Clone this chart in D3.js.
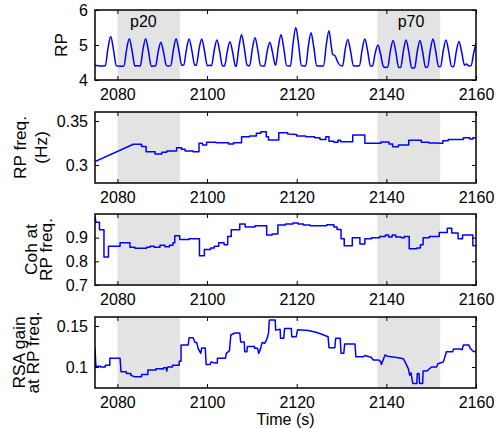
<!DOCTYPE html>
<html>
<head>
<meta charset="utf-8">
<script src="https://cdn.jsdelivr.net/npm/d3@7"></script>
<style>
  body { margin: 0; background: #fff; }
  text { font-family: "Liberation Sans", Arial, Helvetica, sans-serif; fill: #000; }
</style>
</head>
<body>
<script>
// ---- data ----
const xTicks = [2080, 2100, 2120, 2140, 2160];
const periods = [[2080, 2094], [2138, 2152]];
const periodNames = ["p20", "p70"];
const periodLabelTime = [2085.8, 2145.5];

// respiration signal, [time, value]
const rp = [
  [2075,4.42],[2076.2,4.4],[2077.3,4.41],[2077.9,4.91],[2078.5,5.24],[2079.1,4.89],[2079.75,4.41],[2080.6,4.39],
  [2081.45,4.4],[2082.05,4.87],[2082.65,5.18],[2083.25,4.85],[2083.9,4.4],[2084.5,4.41],
  [2085.1,4.4],[2085.7,4.87],[2086.3,5.18],[2086.9,4.85],[2087.55,4.39],[2088.0,4.4],
  [2088.5,4.4],[2089.1,4.81],[2089.7,5.08],[2090.3,4.79],[2090.95,4.41],[2091.4,4.4],
  [2091.9,4.41],[2092.5,4.87],[2093.1,5.18],[2093.7,4.85],[2094.35,4.42],
  [2094.8,4.43],[2095.4,4.87],[2096.0,5.17],[2096.6,4.85],[2097.25,4.43],
  [2097.6,4.42],[2098.2,4.87],[2098.8,5.17],[2099.4,4.85],[2100.05,4.41],[2100.6,4.42],
  [2101.0,4.41],[2101.6,4.85],[2102.2,5.14],[2102.8,4.83],[2103.45,4.4],
  [2103.9,4.4],[2104.5,4.81],[2105.1,5.09],[2105.7,4.8],[2106.35,4.39],
  [2106.5,4.4],[2107.1,4.93],[2107.7,5.29],[2108.3,4.92],[2108.95,4.42],[2109.3,4.41],
  [2109.5,4.41],[2110.1,4.89],[2110.7,5.21],[2111.3,4.87],[2111.95,4.41],[2112.4,4.4],
  [2112.8,4.4],[2113.4,4.81],[2114.0,5.08],[2114.6,4.79],[2115.25,4.42],
  [2115.3,4.42],[2115.9,4.94],[2116.5,5.29],[2117.1,4.92],[2117.75,4.41],[2118.2,4.4],
  [2118.6,4.4],[2119.2,5.06],[2119.8,5.5],[2120.4,5.04],[2121.05,4.41],[2121.6,4.4],
  [2122.0,4.4],[2122.6,4.97],[2123.2,5.35],[2123.8,4.95],[2124.45,4.41],[2125.3,4.4],
  [2126.0,4.41],[2126.6,5.01],[2127.2,5.41],[2127.7,4.98],[2128.0,4.74],[2128.6,4.68],[2129.2,4.5],[2129.8,4.41],
  [2130.25,4.4],[2130.8,4.86],[2131.4,5.16],[2132.0,4.84],[2132.65,4.41],[2133.4,4.4],
  [2134.0,4.41],[2134.6,4.87],[2135.2,5.17],[2135.8,4.85],[2136.45,4.4],
  [2136.9,4.4],[2137.5,4.76],[2138.1,5.0],[2138.7,4.75],[2139.35,4.38],[2139.8,4.36],
  [2140.3,4.37],[2140.9,4.83],[2141.5,5.13],[2142.1,4.81],[2142.75,4.36],
  [2143.2,4.36],[2143.8,4.83],[2144.4,5.14],[2145.0,4.81],[2145.65,4.35],[2146.0,4.34],
  [2146.3,4.35],[2146.9,4.82],[2147.5,5.13],[2148.1,4.8],[2148.75,4.36],
  [2149.2,4.37],[2149.8,4.85],[2150.4,5.17],[2151.0,4.83],[2151.65,4.38],
  [2152.1,4.39],[2152.7,4.84],[2153.3,5.14],[2153.9,4.82],[2154.55,4.39],
  [2155.0,4.38],[2155.6,4.81],[2156.2,5.1],[2156.8,4.8],[2157.45,4.42],[2157.9,4.46],[2158.4,4.4],
  [2158.9,4.41],[2159.5,4.78],[2160,5.05]
];
const rpTicks = [4, 5, 6];

// respiratory frequency (Hz)
const rpFreq = [
  [2075,0.3038],[2083.55,0.3235],[2085.4,0.3235],[2085.4,0.3209],[2086.4,0.3209],[2086.4,0.3151],
  [2088.4,0.3151],[2088.4,0.3125],[2089.9,0.3125],[2089.9,0.3144],[2091.0,0.3144],[2091.0,0.3159],
  [2093.2,0.3159],[2093.2,0.3197],[2094.3,0.3197],[2094.3,0.318],[2095.1,0.318],[2095.1,0.3159],
  [2096.9,0.3159],[2096.9,0.3151],[2098.2,0.3151],[2098.2,0.3246],[2099.0,0.3246],[2099.0,0.3227],
  [2099.9,0.3227],[2099.9,0.3258],[2102.0,0.3258],[2102.0,0.3252],[2104.8,0.3252],[2104.8,0.3238],
  [2105.9,0.3238],[2105.9,0.3252],[2107.7,0.3252],[2107.7,0.3322],[2109.5,0.3322],[2109.5,0.333],
  [2111.0,0.333],[2111.0,0.336],[2112.0,0.336],[2112.0,0.3378],[2113.2,0.3378],[2113.2,0.3322],
  [2113.7,0.3322],[2113.7,0.3284],[2116.0,0.3284],[2116.0,0.3367],[2118.0,0.3367],[2118.0,0.3352],
  [2120.0,0.3345],[2120.0,0.333],[2122.0,0.333],[2122.0,0.332],[2124.0,0.332],[2124.0,0.3308],
  [2125.2,0.3308],[2125.2,0.329],[2126.5,0.329],[2126.5,0.3322],[2127.2,0.3322],[2127.2,0.327],
  [2128.3,0.327],[2128.3,0.3258],[2129.2,0.3258],[2129.2,0.328],[2129.8,0.328],[2129.8,0.3265],
  [2132.5,0.3265],[2132.5,0.334],[2135.2,0.334],[2135.2,0.3246],[2138.8,0.3246],[2138.8,0.326],
  [2140.6,0.326],[2140.6,0.3238],[2141.4,0.3238],[2141.4,0.3208],[2142.7,0.3208],[2142.7,0.3227],
  [2145.0,0.3227],[2145.0,0.328],[2147.8,0.328],[2147.8,0.3258],[2149.5,0.3258],[2149.5,0.325],
  [2151.6,0.325],[2151.6,0.3246],[2152.6,0.3246],[2152.6,0.3276],[2153.8,0.3276],[2153.8,0.329],
  [2157.2,0.329],[2157.2,0.331],[2158.6,0.331],[2158.6,0.3295],[2159.3,0.3295],[2159.3,0.331],[2160,0.331]
];
const rpFreqTicks = [0.3, 0.35];

// coherence at RP frequency
const coh = [
  [2075,0.99],[2075.2,0.965],[2076.0,0.965],[2076.0,0.933],[2077.0,0.933],[2077.0,0.818],[2078.0,0.818],
  [2078.0,0.864],[2080.6,0.864],[2080.6,0.878],[2082.8,0.878],[2082.8,0.859],[2083.9,0.859],[2083.9,0.855],
  [2086.5,0.855],[2086.5,0.86],[2087.3,0.86],[2087.3,0.864],[2088.2,0.864],[2088.2,0.86],[2089.5,0.86],
  [2089.5,0.868],[2090.6,0.868],[2090.6,0.862],[2091.6,0.862],[2091.6,0.868],[2092.4,0.868],[2092.4,0.878],
  [2092.8,0.878],[2092.8,0.908],[2093.9,0.908],[2093.9,0.892],[2096.0,0.892],[2096.0,0.895],[2098.3,0.895],
  [2098.3,0.824],[2099.4,0.824],[2099.4,0.85],[2100.8,0.85],[2100.8,0.856],[2101.6,0.856],[2101.6,0.864],
  [2102.6,0.864],[2102.6,0.878],[2103.8,0.878],[2103.8,0.87],[2104.6,0.87],[2104.6,0.905],[2105.4,0.905],
  [2105.4,0.933],[2107.3,0.933],[2107.3,0.958],[2108.5,0.958],[2108.5,0.945],[2110.7,0.945],[2110.7,0.95],
  [2113.3,0.95],[2113.3,0.911],[2114.5,0.911],[2114.5,0.915],[2115.8,0.915],[2115.8,0.953],[2117.5,0.953],
  [2117.5,0.958],[2119.2,0.958],[2119.2,0.962],[2120.3,0.962],[2120.3,0.958],[2121.5,0.958],[2121.5,0.953],
  [2123.0,0.953],[2123.0,0.95],[2126.7,0.95],[2126.7,0.955],[2128.3,0.955],[2128.3,0.945],[2129.0,0.945],
  [2129.0,0.935],[2129.9,0.935],[2129.9,0.895],[2130.6,0.895],[2130.6,0.866],[2132.4,0.866],[2132.4,0.9],
  [2134.1,0.9],[2134.1,0.873],[2135.2,0.873],[2135.2,0.895],[2136.7,0.895],[2136.7,0.9],[2138.5,0.9],
  [2138.5,0.905],[2139.8,0.905],[2139.8,0.911],[2140.5,0.911],[2140.5,0.903],[2141.3,0.903],[2141.3,0.911],
  [2142.1,0.911],[2142.1,0.903],[2143.3,0.903],[2143.3,0.9],[2144.0,0.9],[2144.0,0.905],[2145.1,0.905],
  [2145.1,0.853],[2146.8,0.853],[2146.8,0.856],[2147.6,0.856],[2147.6,0.87],[2148.2,0.87],[2148.2,0.9],
  [2149.6,0.9],[2149.6,0.905],[2151.8,0.905],[2151.8,0.922],[2153.6,0.922],[2153.6,0.94],[2154.6,0.94],
  [2154.6,0.92],[2156.0,0.92],[2156.0,0.895],[2157.0,0.895],[2157.0,0.911],[2159.3,0.911],[2159.3,0.866],[2160,0.866]
];
const cohTicks = [0.7, 0.8, 0.9];

// RSA gain at RP frequency
const rsaGain = [
  [2075,0.1228],[2075.2,0.101],[2076.2,0.101],[2076.2,0.1],[2077.3,0.1],[2077.3,0.102],[2078.3,0.102],
  [2078.3,0.1106],[2080.6,0.1106],[2080.8,0.0943],[2082.0,0.0943],[2082.0,0.092],[2083.0,0.092],[2083.0,0.09],
  [2083.9,0.088],[2085.4,0.088],[2085.4,0.091],[2086.8,0.091],[2086.8,0.0963],[2088.6,0.0963],[2088.6,0.098],
  [2089.9,0.098],[2089.9,0.0975],[2090.3,0.0975],[2090.3,0.099],[2090.9,0.099],[2091.0,0.095],[2091.2,0.1],
  [2092.3,0.1],[2092.3,0.102],[2093.8,0.102],[2093.8,0.107],[2094.2,0.107],[2094.2,0.127],[2095.8,0.127],
  [2096.0,0.1358],[2096.9,0.1358],[2097.3,0.13],[2097.7,0.13],[2098.0,0.1228],[2098.6,0.1167],[2098.8,0.1233],
  [2099.6,0.1233],[2099.8,0.103],[2100.7,0.103],[2100.9,0.106],[2101.9,0.105],[2102.3,0.105],[2102.3,0.1106],
  [2104.1,0.1106],[2104.3,0.1167],[2105.0,0.12],[2105.3,0.139],[2106.2,0.1415],[2107.3,0.1415],[2107.5,0.1305],
  [2108.3,0.1305],[2108.4,0.1187],[2108.9,0.1187],[2109.0,0.125],[2110.6,0.125],[2110.6,0.1228],[2111.3,0.1228],
  [2111.5,0.1167],[2111.8,0.12],[2112.3,0.13],[2112.9,0.129],[2113.4,0.135],[2113.7,0.141],[2113.9,0.1573],
  [2115.2,0.1573],[2115.3,0.145],[2116.3,0.146],[2116.4,0.135],[2117.1,0.135],[2117.3,0.147],[2118.8,0.147],
  [2118.9,0.137],[2119.9,0.137],[2120.2,0.1455],[2122.6,0.1445],[2124.5,0.142],[2125.6,0.14],[2127.0,0.137],
  [2127.2,0.1236],[2128.5,0.1236],[2128.7,0.135],[2129.7,0.135],[2129.9,0.1167],[2130.5,0.1167],[2130.7,0.128],
  [2133.0,0.128],[2133.2,0.1126],[2134.9,0.1126],[2135.2,0.114],[2136.6,0.112],[2137.1,0.1085],[2138.3,0.1085],
  [2138.7,0.107],[2138.9,0.103],[2139.7,0.1146],[2140.3,0.113],[2142.3,0.1116],[2143.8,0.11],[2144.2,0.106],
  [2144.9,0.098],[2145.2,0.09],[2145.5,0.093],[2145.9,0.08],[2146.8,0.08],[2146.9,0.092],[2147.3,0.092],
  [2147.4,0.08],[2148.1,0.08],[2148.2,0.095],[2149.0,0.095],[2150.1,0.1],[2151.2,0.1],[2151.5,0.104],
  [2152.7,0.106],[2153.4,0.1187],[2154.8,0.1187],[2155.0,0.122],[2156.5,0.122],[2156.9,0.121],[2157.2,0.127],
  [2158.4,0.127],[2158.7,0.123],[2159.4,0.119],[2160,0.119]
];
const rsaTicks = [0.1, 0.15];

// ---- layout ----
const width = 500;
const height = 429;
const left = 95, right = 476;

const panels = [
  { data: rp, domain: [4, 6], ticks: rpTicks, top: 10, bottom: 80,
    label: [{ text: "RP", x: 67 }], shadeText: true },
  { data: rpFreq, domain: [0.2795, 0.3602], ticks: rpFreqTicks, top: 112, bottom: 183,
    label: [{ text: "RP freq.", x: 26 }, { text: "(Hz)", x: 47 }] },
  { data: coh, domain: [0.7, 1.0], ticks: cohTicks, top: 214, bottom: 285,
    label: [{ text: "Coh at", x: 36.5 }, { text: "RP freq.", x: 51.5 }] },
  { data: rsaGain, domain: [0.0744, 0.161], ticks: rsaTicks, top: 317, bottom: 388,
    label: [{ text: "RSA gain", x: 24.5 }, { text: "at RP freq.", x: 39 }] }
];

const svg = d3.select("body")
  .append("svg")
  .attr("width", width)
  .attr("height", height);

const x = d3.scaleLinear()
  .domain([2075, 2160])
  .range([left, right]);

panels.forEach((p, i) => {
  const y = d3.scaleLinear()
    .domain(p.domain)
    .range([p.bottom, p.top]);

  const g = svg.append("g");

  // shaded periods
  g.selectAll("rect.shade")
    .data(periods)
    .enter().append("rect")
    .attr("class", "shade")
    .attr("x", d => x(d[0]))
    .attr("width", d => x(d[1]) - x(d[0]))
    .attr("y", p.top)
    .attr("height", p.bottom - p.top)
    .attr("fill", "#e3e3e3");

  if (p.shadeText) {
    g.selectAll("text.pname")
      .data(periodNames)
      .enter().append("text")
      .attr("class", "pname")
      .attr("x", (d, j) => x(periodLabelTime[j]))
      .attr("y", 27)
      .attr("text-anchor", "middle")
      .style("font-size", "16px")
      .text(d => d);
  }

  // clip
  const clipId = "clip" + i;
  svg.append("clipPath").attr("id", clipId)
    .append("rect")
    .attr("x", left).attr("y", p.top)
    .attr("width", right - left).attr("height", p.bottom - p.top);

  const line = d3.line()
    .x(d => x(d[0]))
    .y(d => y(d[1]))
    .curve(i === 0 ? d3.curveMonotoneX : d3.curveLinear);

  g.append("path")
    .datum(p.data)
    .attr("clip-path", `url(#${clipId})`)
    .attr("fill", "none")
    .attr("stroke", "#0000ff")
    .attr("stroke-width", 1.5)
    .attr("stroke-linejoin", "round")
    .attr("d", line);

  // axes with inward ticks on all sides
  const fmt = d => String(d);
  const axes = [
    [d3.axisBottom(x).tickValues(xTicks).tickFormat(fmt).tickPadding(9), `translate(0,${p.bottom})`],
    [d3.axisTop(x).tickValues(xTicks).tickFormat(""), `translate(0,${p.top})`],
    [d3.axisLeft(y).tickValues(p.ticks).tickFormat(fmt).tickPadding(7), `translate(${left},0)`],
    [d3.axisRight(y).tickValues(p.ticks).tickFormat(""), `translate(${right},0)`]
  ];
  axes.forEach(([ax, tr]) => {
    const a = g.append("g")
      .attr("transform", tr)
      .call(ax.tickSizeInner(-4).tickSizeOuter(0));
    a.select(".domain").remove();
    a.selectAll("line").attr("stroke", "#000");
    a.selectAll("text")
      .style("font-size", "16px")
      .style("font-family", '"Liberation Sans", Arial, sans-serif')
      .attr("fill", "#000");
  });

  // box
  g.append("rect")
    .attr("x", left).attr("y", p.top)
    .attr("width", right - left).attr("height", p.bottom - p.top)
    .attr("fill", "none")
    .attr("stroke", "#000")
    .attr("stroke-width", 1.5);

  // y label
  const cy = (p.top + p.bottom) / 2;
  p.label.forEach(l => {
    svg.append("text")
      .attr("transform", `translate(${l.x},${cy}) rotate(-90) scale(1.08,1)`)
      .attr("text-anchor", "middle")
      .style("font-size", "16px")
      .text(l.text);
  });
});

svg.append("text")
  .attr("x", (left + right) / 2)
  .attr("y", 425)
  .attr("text-anchor", "middle")
  .style("font-size", "16px")
  .text("Time (s)");
</script>
</body>
</html>
